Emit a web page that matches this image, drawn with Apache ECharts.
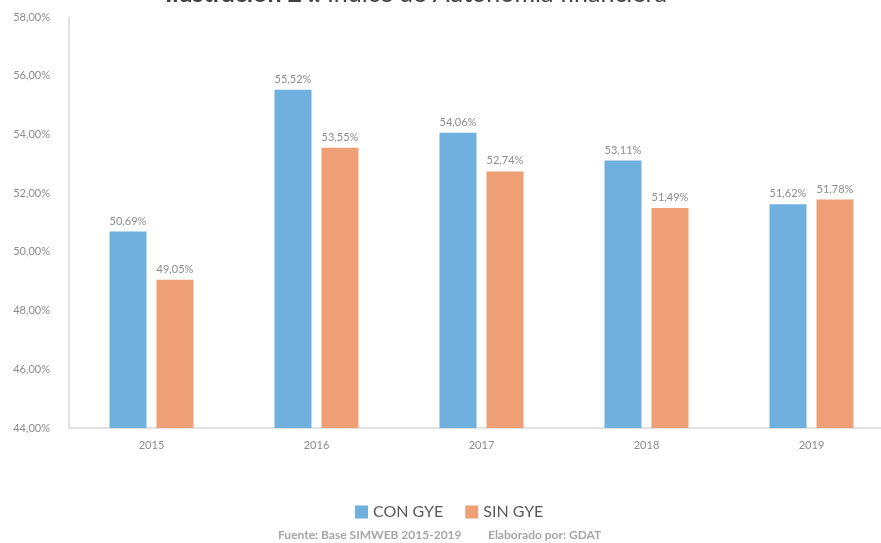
<!DOCTYPE html>
<html>
<head>
<meta charset="utf-8">
<script src="https://cdn.jsdelivr.net/npm/echarts@6/dist/echarts.min.js"></script>
<style>html,body{margin:0;padding:0;background:#fff}#c{width:881px;height:543px}</style>
</head>
<body>
<div id="c"></div>
<script>
const categories = ['2015', '2016', '2017', '2018', '2019'];
const conGye = [50.69, 55.52, 54.06, 53.11, 51.62];
const sinGye = [49.05, 53.55, 52.74, 51.49, 51.78];
const seriesNames = ['CON GYE', 'SIN GYE'];
const titleBold = 'Ilustración 2 .:';
const titleRest = ' Índice de Autonomía financiera';
const sourceText = 'Fuente: Base SIMWEB 2015-2019';
const authorText = 'Elaborado por: GDAT';

const FONT = 'Lato, "Open Sans", sans-serif';
const fmt = v => v.toFixed(2).replace('.', ',') + '%';

const chart = echarts.init(document.getElementById('c'));
chart.setOption({
  animation: false,
  textStyle: { fontFamily: FONT },
  grid: { left: 69, width: 825, top: 17, height: 411, containLabel: false, outerBoundsMode: 'none' },
  legend: {
    data: seriesNames,
    left: 350,
    top: 499,
    icon: 'rect',
    itemWidth: 13,
    itemHeight: 13,
    itemGap: 22,
    textStyle: { fontSize: 16, color: '#595959', fontFamily: FONT }
  },
  xAxis: {
    type: 'category',
    data: categories,
    axisLine: { lineStyle: { color: '#D9D9D9', width: 1.5 } },
    axisTick: { show: false },
    axisLabel: { color: '#8C8C8C', fontSize: 11, margin: 12 }
  },
  yAxis: {
    type: 'value',
    min: 44,
    max: 58,
    interval: 2,
    axisLine: { show: true, lineStyle: { color: '#D9D9D9', width: 1.5 } },
    axisTick: { show: false },
    splitLine: { show: false },
    axisLabel: { color: '#8C8C8C', fontSize: 11, margin: 19, formatter: v => fmt(v) }
  },
  series: [
    {
      name: seriesNames[0], type: 'bar', data: conGye, barWidth: 37, barGap: '27%',
      itemStyle: { color: '#6FB0DF' },
      label: { show: true, position: 'top', distance: 5, color: '#8C8C8C', fontSize: 11, formatter: p => fmt(p.value) }
    },
    {
      name: seriesNames[1], type: 'bar', data: sinGye, barWidth: 37,
      itemStyle: { color: '#EE9F75' },
      label: { show: true, position: 'top', distance: 5, color: '#8C8C8C', fontSize: 11, formatter: p => fmt(p.value) }
    }
  ],
  graphic: [
    {
      type: 'text', x: 165, y: -19,
      style: {
        text: '{b|' + titleBold + '}{n|' + titleRest + '}',
        rich: {
          b: { fontSize: 25, fontWeight: 'bold', fill: '#404040', fontFamily: FONT },
          n: { fontSize: 25, fill: '#404040', fontFamily: FONT }
        }
      }
    },
    {
      type: 'text', x: 278, y: 529,
      style: { text: sourceText, fontSize: 12, fontWeight: 'bold', fill: '#A6A6A6', fontFamily: FONT }
    },
    {
      type: 'text', x: 488, y: 529,
      style: { text: authorText, fontSize: 12, fontWeight: 'bold', fill: '#A6A6A6', fontFamily: FONT }
    }
  ]
});
</script>
</body>
</html>
